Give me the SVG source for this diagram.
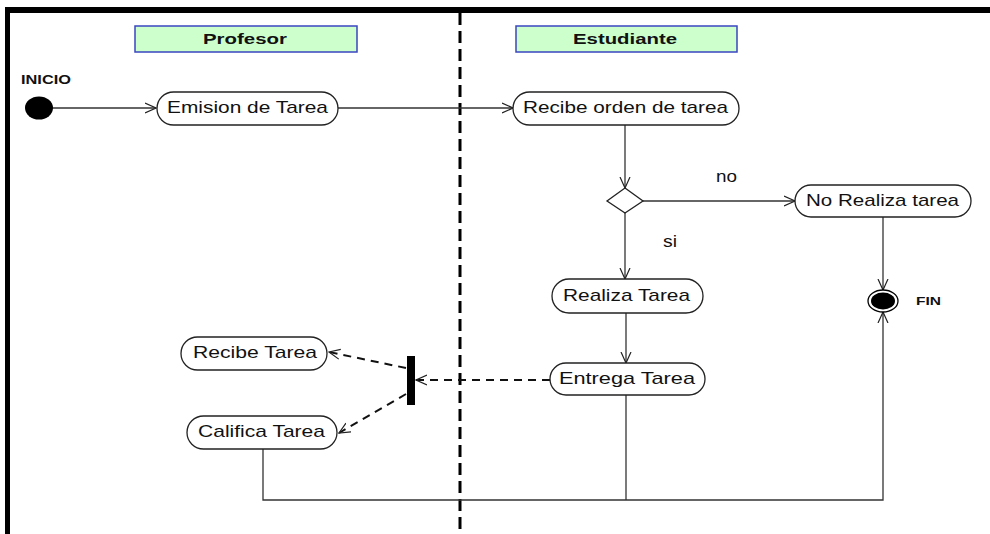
<svg xmlns="http://www.w3.org/2000/svg" width="990" height="534" viewBox="0 0 990 534">
<defs>
<style>
.node{fill:#fff;stroke:#222;stroke-width:1.3}
.lbl{font-family:"Liberation Sans",Arial,sans-serif;font-size:17px;fill:#111}
.lane{fill:#ccffcc;stroke:#3a46c0;stroke-width:1.5}
.lanet{font-family:"Liberation Sans",Arial,sans-serif;font-size:15px;font-weight:bold;fill:#111}
.bold{font-family:"Liberation Sans",Arial,sans-serif;font-weight:bold;fill:#111}
.c{fill:none;stroke:#333;stroke-width:1.3}
.d{fill:none;stroke:#111;stroke-width:2;stroke-dasharray:8 6}
</style>
<marker id="open" viewBox="0 0 12 12" refX="11" refY="6" markerWidth="12" markerHeight="12" markerUnits="userSpaceOnUse" orient="auto">
<path d="M0,1 L11,6 L0,11" fill="none" stroke="#222" stroke-width="1.2"/>
</marker>
</defs>
<rect width="990" height="534" fill="#fff"/>
<g id="frame">
<rect x="5" y="7" width="985" height="6" fill="#000"/>
<rect x="5" y="7" width="5" height="527" fill="#000"/>
<line x1="460" y1="13" x2="460" y2="534" stroke="#000" stroke-width="3" stroke-dasharray="12 6"/>
</g>
<g id="lane-profesor">
<rect class="lane" x="135" y="26" width="222" height="26"/>
<text class="lanet" x="245" y="44" text-anchor="middle" textLength="84" lengthAdjust="spacingAndGlyphs">Profesor</text>
</g>
<g id="lane-estudiante">
<rect class="lane" x="516" y="26" width="221" height="26"/>
<text class="lanet" x="625" y="44" text-anchor="middle" textLength="104" lengthAdjust="spacingAndGlyphs">Estudiante</text>
</g>
<g id="connectors">
<line class="c" x1="52" y1="108" x2="156" y2="108" marker-end="url(#open)"/>
<line class="c" x1="338" y1="108" x2="513" y2="108" marker-end="url(#open)"/>
<line class="c" x1="625" y1="125" x2="625" y2="188" marker-end="url(#open)"/>
<line class="c" x1="643" y1="201" x2="795" y2="201" marker-end="url(#open)"/>
<line class="c" x1="625" y1="213" x2="625" y2="279" marker-end="url(#open)"/>
<line class="c" x1="883" y1="217" x2="883" y2="290" marker-end="url(#open)"/>
<line class="c" x1="626" y1="313" x2="626" y2="363" marker-end="url(#open)"/>
<line class="d" x1="550" y1="380" x2="416" y2="380" marker-end="url(#open)"/>
<line class="d" x1="406" y1="368" x2="329" y2="352" marker-end="url(#open)"/>
<line class="d" x1="406" y1="394" x2="339" y2="433" marker-end="url(#open)"/>
<polyline class="c" points="263,449 263,500 883,500 883,312" marker-end="url(#open)"/>
<line class="c" x1="626" y1="395" x2="626" y2="500"/>
</g>
<g id="inicio">
<ellipse cx="39" cy="108" rx="14" ry="11.5" fill="#000"/>
<text class="bold" x="21" y="84" font-size="12" textLength="50" lengthAdjust="spacingAndGlyphs">INICIO</text>
</g>
<g id="emision">
<rect class="node" x="157" y="92" width="181" height="33" rx="16.5"/>
<text class="lbl" x="247.5" y="113" text-anchor="middle" textLength="161" lengthAdjust="spacingAndGlyphs">Emision de Tarea</text>
</g>
<g id="recibe-orden">
<rect class="node" x="513" y="92" width="226" height="33" rx="16.5"/>
<text class="lbl" x="625.5" y="113" text-anchor="middle" textLength="205" lengthAdjust="spacingAndGlyphs">Recibe orden de tarea</text>
</g>
<g id="decision">
<polygon class="node" points="625,188 643,201 625,213 607,201"/>
<text class="lbl" x="726.5" y="182" text-anchor="middle" textLength="21" lengthAdjust="spacingAndGlyphs">no</text>
<text class="lbl" x="670" y="247" text-anchor="middle" textLength="14" lengthAdjust="spacingAndGlyphs">si</text>
</g>
<g id="no-realiza">
<rect class="node" x="795" y="185" width="176" height="32" rx="16"/>
<text class="lbl" x="882.5" y="206" text-anchor="middle" textLength="153" lengthAdjust="spacingAndGlyphs">No Realiza tarea</text>
</g>
<g id="fin">
<ellipse cx="883" cy="301" rx="15" ry="11" fill="#fff" stroke="#000" stroke-width="1.3"/>
<ellipse cx="883" cy="301" rx="12" ry="8.5" fill="#000"/>
<text class="bold" x="916" y="305" font-size="11" textLength="25" lengthAdjust="spacingAndGlyphs">FIN</text>
</g>
<g id="realiza">
<rect class="node" x="552" y="279" width="151" height="34" rx="17"/>
<text class="lbl" x="626.5" y="301" text-anchor="middle" textLength="127" lengthAdjust="spacingAndGlyphs">Realiza Tarea</text>
</g>
<g id="entrega">
<rect class="node" x="550" y="363" width="155" height="32" rx="16"/>
<text class="lbl" x="627" y="384" text-anchor="middle" textLength="136" lengthAdjust="spacingAndGlyphs">Entrega Tarea</text>
</g>
<g id="fork">
<rect x="407" y="356" width="8" height="49" fill="#000"/>
</g>
<g id="recibe-tarea">
<rect class="node" x="181" y="337" width="146" height="33" rx="16.5"/>
<text class="lbl" x="255" y="358" text-anchor="middle" textLength="124" lengthAdjust="spacingAndGlyphs">Recibe Tarea</text>
</g>
<g id="califica">
<rect class="node" x="187" y="416" width="150" height="33" rx="16.5"/>
<text class="lbl" x="261.5" y="437" text-anchor="middle" textLength="127" lengthAdjust="spacingAndGlyphs">Califica Tarea</text>
</g>
</svg>
